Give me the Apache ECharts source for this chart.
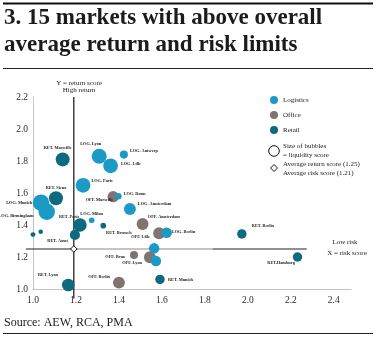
<!DOCTYPE html>
<html>
<head>
<meta charset="utf-8">
<script src="https://cdn.jsdelivr.net/npm/echarts@6/dist/echarts.min.js"></script>
<style>html,body{margin:0;padding:0;background:#fff;}#c{width:377px;height:337px;}</style>
</head>
<body>
<div id="c"></div>
<script>
// ---- data ----
var logNames = ['LOG. Lyon','LOG. Antwerp','LOG. Lille','LOG. Paris','LOG. Rome','LOG. Munich','LOG. Birmingham','LOG. Milan','LOG. Amsterdam','LOG. Berlin','',''];
var logRisk  = [1.308,1.423,1.361,1.233,1.397,1.037,1.064,1.273,1.451,1.622,1.564,1.572];
var logRet   = [1.83,1.84,1.77,1.648,1.58,1.54,1.483,1.43,1.50,1.352,1.254,1.175];
var logLiq   = [2.15,1.15,2.1,2.1,0.95,2.35,2.35,0.8,1.7,1.5,1.5,1.5];

var offNames = ['OFF. Marseille','OFF. Amsterdam','OFF. Lille','OFF. Brno','OFF. Lyon','OFF. Berlin'];
var offRisk  = [1.373,1.51,1.587,1.47,1.544,1.40];
var offRet   = [1.577,1.406,1.348,1.212,1.198,1.04];
var offLiq   = [1.6,1.7,1.7,1.15,1.7,1.7];

var retNames = ['RET. Marseille','RET. Siena','RET. Paris','RET. Amst','RET. Brussels','RET. Berlin','RET.Hamburg','RET. Munich','RET. Lyon','',''];
var retRisk  = [1.138,1.107,1.219,1.195,1.327,1.972,2.231,1.591,1.164,1.036,1.0];
var retRet   = [1.81,1.567,1.40,1.338,1.396,1.344,1.20,1.06,1.025,1.358,1.34];
var retLiq   = [2.0,2.0,1.9,1.45,0.8,1.35,1.35,1.35,1.8,0.65,0.7];

var avgReturn = 1.25, avgRisk = 1.19;
var xTicks = {min:1.0, max:2.48, interval:0.2};
var yTicks = {min:1.0, max:2.2, interval:0.2};

// ---- label placement (style only) ----
var labelPlace = {
  'LOG. Lyon':['top',[-8.5,-1]], 'LOG. Antwerp':['right',[0,-3.3]], 'LOG. Lille':['right',[1,-2]],
  'LOG. Paris':['right',[-1,-4]], 'LOG. Rome':['right',[0,-2]], 'LOG. Munich':['left',[1.5,0]],
  'LOG. Birmingham':['left',[-3,4.5]], 'LOG. Milan':['top',[0,0]], 'LOG. Amsterdam':['right',[0,-5]],
  'LOG. Berlin':['right',[-2,-0.7]],
  'OFF. Marseille':['left',[7.7,3.3]], 'OFF. Amsterdam':['right',[-2.7,-7]], 'OFF. Lille':['left',[-1.3,4]],
  'OFF. Brno':['left',[-3,1.7]], 'OFF. Lyon':['left',[0,6]], 'OFF. Berlin':['left',[-1,-5.7]],
  'RET. Marseille':['top',[-5,-1]], 'RET. Siena':['top',[0,1]], 'RET. Paris':['left',[7.7,-8]],
  'RET. Amst':['left',[0,5.7]], 'RET. Brussels':['right',[-2,7]], 'RET. Berlin':['right',[3.3,-8.3]],
  'RET.Hamburg':['left',[4,5.6]], 'RET. Munich':['right',[1.3,0]], 'RET. Lyon':['left',[-2,-10]]
};

var C_LOG = '#1a9ac4', C_OFF = '#807471', C_RET = '#0d6a80';
var SERIF = '"Liberation Serif", "DejaVu Serif", serif';

function build(names, risk, ret, liq) {
  return names.map(function (n, i) {
    var item = {name: n, value: [risk[i], ret[i], liq[i]]};
    var p = labelPlace[n];
    if (p) {
      item.label = {show: true, position: p[0], offset: p[1], distance: 2};
    }
    return item;
  });
}

function scatter(name, color, data) {
  return {
    name: name, type: 'scatter', data: data, color: color,
    symbol: 'circle',
    symbolSize: function (v) { return v[2] * 7; },
    itemStyle: {color: color, opacity: 1},
    label: {show: false, formatter: '{b}', fontFamily: SERIF, fontSize: 4.3, fontWeight: 'bold', color: '#222'},
    emphasis: {disabled: true},
    z: 3
  };
}

var chart = echarts.init(document.getElementById('c'), null, {renderer: 'canvas'});
chart.setOption({
  animation: false,
  backgroundColor: '#fff',
  title: {
    text: '3. 15 markets with above overall\naverage return and risk limits',
    left: 1, top: 5, padding: [0, 0, 0, 3],
    textStyle: {fontFamily: SERIF, fontSize: 23, fontWeight: 'bold', lineHeight: 27, color: '#1b1b1b'}
  },
  grid: {left: 33, top: 97, width: 318, height: 192},
  xAxis: {
    type: 'value', min: xTicks.min, max: xTicks.max, interval: xTicks.interval,
    axisLine: {show: true, lineStyle: {color: '#c4c4c4', width: 1}},
    axisTick: {show: false}, splitLine: {show: false},
    axisLabel: {margin: 6, showMaxLabel: false, fontFamily: SERIF, fontSize: 9.5, color: '#2a2a2a',
      formatter: function (v) { return v.toFixed(1); }}
  },
  yAxis: {
    type: 'value', min: yTicks.min, max: yTicks.max, interval: yTicks.interval,
    axisLine: {show: true, lineStyle: {color: '#c4c4c4', width: 1}},
    axisTick: {show: false}, splitLine: {show: false},
    axisLabel: {margin: 5, fontFamily: SERIF, fontSize: 9.5, color: '#2a2a2a',
      formatter: function (v) { return v.toFixed(1); }}
  },
  legend: {
    data: ['Logistics', 'Office', 'Retail'],
    orient: 'vertical', left: 265, top: 91, itemWidth: 8, itemHeight: 8, itemGap: 7,
    icon: 'circle', selectedMode: false,
    textStyle: {fontFamily: SERIF, fontSize: 7, color: '#222'}
  },
  series: [
    {
      type: 'custom', name: 'avg', data: [[avgRisk, avgReturn]], z: 2, silent: true,
      renderItem: function (params, api) {
        var c = api.coord([api.value(0), api.value(1)]);
        var top = api.coord([api.value(0), 2.2]);
        var bot = api.coord([api.value(0), 0.94]);
        var l = api.coord([0.967, api.value(1)]);
        var g = api.coord([1.837, api.value(1)]);
        var r = api.coord([2.274, api.value(1)]);
        return {type: 'group', children: [
          {type: 'line', shape: {x1: c[0], y1: top[1], x2: c[0], y2: bot[1]}, style: {stroke: '#111', lineWidth: 1.2}},
          {type: 'line', shape: {x1: l[0], y1: c[1], x2: c[0], y2: c[1]}, style: {stroke: '#222', lineWidth: 1}},
          {type: 'line', shape: {x1: c[0], y1: c[1], x2: g[0], y2: c[1]}, style: {stroke: '#8a8a8a', lineWidth: 1}},
          {type: 'line', shape: {x1: g[0], y1: c[1], x2: r[0], y2: c[1]}, style: {stroke: '#222', lineWidth: 1}}
        ]};
      }
    },
    scatter('Office', C_OFF, build(offNames, offRisk, offRet, offLiq)),
    scatter('Retail', C_RET, build(retNames, retRisk, retRet, retLiq)),
    scatter('Logistics', C_LOG, build(logNames, logRisk, logRet, logLiq)),
    {
      type: 'custom', name: 'avgMark', data: [[avgRisk, avgReturn]], z: 5, silent: true,
      renderItem: function (params, api) {
        var c = api.coord([api.value(0), api.value(1)]);
        var s = 3.3;
        return {type: 'polygon', shape: {points: [[c[0], c[1] - s], [c[0] + s, c[1]], [c[0], c[1] + s], [c[0] - s, c[1]]]},
          style: {fill: '#fff', stroke: '#111', lineWidth: 1}};
      }
    }
  ],
  graphic: [
    {type: 'line', shape: {x1: 3, y1: 3.5, x2: 373, y2: 3.5}, style: {stroke: '#111', lineWidth: 2}},
    {type: 'line', shape: {x1: 3, y1: 68.5, x2: 373, y2: 68.5}, style: {stroke: '#222', lineWidth: 1}},
    {type: 'line', shape: {x1: 3, y1: 333.5, x2: 373, y2: 333.5}, style: {stroke: '#222', lineWidth: 1.2}},
    {type: 'text', left: 4, top: 317, style: {text: 'Source: AEW, RCA, PMA', font: '12px ' + SERIF, fill: '#1b1b1b'}},
    {type: 'text', x: 79, y: 83, style: {text: 'Y = return score', font: '7px ' + SERIF, fill: '#222', align: 'center', verticalAlign: 'middle'}},
    {type: 'text', x: 79, y: 90.5, style: {text: 'High return', font: '7px ' + SERIF, fill: '#222', align: 'center', verticalAlign: 'middle'}},
    {type: 'text', x: 345, y: 242, style: {text: 'Low risk', font: '7px ' + SERIF, fill: '#222', align: 'center', verticalAlign: 'middle'}},
    {type: 'text', x: 347, y: 253, style: {text: 'X = risk score', font: '7px ' + SERIF, fill: '#222', align: 'center', verticalAlign: 'middle'}},
    {type: 'circle', shape: {cx: 274, cy: 151, r: 5.3}, style: {fill: 'none', stroke: '#111', lineWidth: 1}},
    {type: 'text', x: 283, y: 146.5, style: {text: 'Size of bubbles', font: '7px ' + SERIF, fill: '#222', verticalAlign: 'middle'}},
    {type: 'text', x: 283, y: 155, style: {text: '= liquidity score', font: '7px ' + SERIF, fill: '#222', verticalAlign: 'middle'}},
    {type: 'polygon', shape: {points: [[274, 164.5], [277.5, 168], [274, 171.5], [270.5, 168]]}, style: {fill: '#fff', stroke: '#111', lineWidth: 1}},
    {type: 'text', x: 283, y: 164, style: {text: 'Average return score (1.25)', font: '7px ' + SERIF, fill: '#222', verticalAlign: 'middle'}},
    {type: 'text', x: 283, y: 173, style: {text: 'Average risk score (1.21)', font: '7px ' + SERIF, fill: '#222', verticalAlign: 'middle'}}
  ]
});
</script>
</body>
</html>
